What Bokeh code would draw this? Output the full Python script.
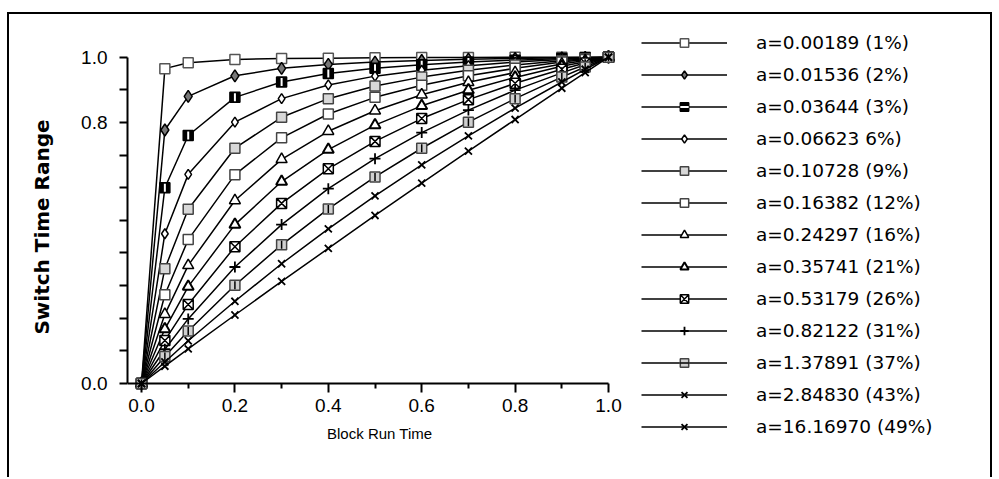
import math
from bokeh.plotting import figure
from bokeh.models import (FixedTicker, Legend, LegendItem, CustomJSTickFormatter,
                          NumeralTickFormatter, ColumnDataSource, Label)
from bokeh.embed import file_html
from bokeh.resources import INLINE

# ---------------- data ----------------
block_run_time = [0.0, 0.05, 0.1, 0.2, 0.3, 0.4, 0.5, 0.6, 0.7, 0.8, 0.9, 0.95, 1.0]

series_labels = [
    "a=0.00189 (1%)", "a=0.01536 (2%)", "a=0.03644 (3%)", "a=0.06623 6%)",
    "a=0.10728 (9%)", "a=0.16382 (12%)", "a=0.24297 (16%)", "a=0.35741 (21%)",
    "a=0.53179 (26%)", "a=0.82122 (31%)", "a=1.37891 (37%)", "a=2.84830 (43%)",
    "a=16.16970 (49%)",
]

s01 = [0, 0.965, 0.983, 0.993, 0.996, 0.997, 0.998, 0.999, 0.999, 1.000, 1.000, 1.000, 1.0]
s02 = [0, 0.777, 0.880, 0.943, 0.966, 0.978, 0.985, 0.990, 0.994, 0.996, 0.998, 0.999, 1.0]
s03 = [0, 0.600, 0.760, 0.877, 0.924, 0.950, 0.966, 0.977, 0.985, 0.991, 0.996, 0.998, 1.0]
s04 = [0, 0.459, 0.641, 0.801, 0.873, 0.915, 0.942, 0.960, 0.974, 0.985, 0.993, 0.997, 1.0]
s05 = [0, 0.352, 0.534, 0.721, 0.816, 0.873, 0.912, 0.939, 0.960, 0.976, 0.989, 0.995, 1.0]
s06 = [0, 0.272, 0.441, 0.640, 0.753, 0.826, 0.877, 0.914, 0.943, 0.966, 0.985, 0.993, 1.0]
s07 = [0, 0.212, 0.362, 0.561, 0.687, 0.773, 0.836, 0.885, 0.923, 0.953, 0.979, 0.990, 1.0]
s08 = [0, 0.167, 0.297, 0.487, 0.619, 0.717, 0.792, 0.851, 0.899, 0.938, 0.972, 0.986, 1.0]
s09 = [0, 0.132, 0.242, 0.419, 0.552, 0.658, 0.742, 0.812, 0.870, 0.920, 0.963, 0.982, 1.0]
s10 = [0, 0.105, 0.198, 0.357, 0.487, 0.597, 0.689, 0.769, 0.838, 0.899, 0.952, 0.977, 1.0]
s11 = [0, 0.083, 0.161, 0.301, 0.425, 0.535, 0.633, 0.721, 0.801, 0.873, 0.939, 0.970, 1.0]
s12 = [0, 0.066, 0.131, 0.252, 0.367, 0.474, 0.575, 0.670, 0.759, 0.844, 0.924, 0.963, 1.0]
s13 = [0, 0.053, 0.106, 0.210, 0.313, 0.414, 0.515, 0.614, 0.712, 0.809, 0.905, 0.953, 1.0]

series_values = [s01, s02, s03, s04, s05, s06, s07, s08, s09, s10, s11, s12, s13]

x_major_ticks = [0.0, 0.2, 0.4, 0.6, 0.8, 1.0]
x_minor_ticks = [0.1, 0.3, 0.5, 0.7, 0.9]
y_ticks = [0.0, 0.1, 0.2, 0.3, 0.4, 0.5, 0.6, 0.7, 0.8, 0.9, 1.0]

# marker styles: (marker, size, fill, line colour, line width, overlay)
styles = [
    ("square", 10, "white", "#555555", 1.5, None),
    ("diamond", 12, "#777777", "black", 1.5, None),
    ("square", 10, "black", "black", 1.5, ("dash", 8, "white", 2)),
    ("diamond", 10, "white", "black", 1.5, None),
    ("square", 10, "#d8d8d8", "#444444", 1.5, None),
    ("square", 10, "white", "#444444", 1.5, None),
    ("triangle", 11, "white", "black", 1.5, None),
    ("triangle", 11, "white", "black", 2.0, None),
    ("square_x", 10, "white", "black", 1.5, None),
    ("cross", 11, "white", "black", 1.8, None),
    ("square", 10, "#d0d0d0", "#444444", 1.5, ("dash", 8, "black", 1.5)),
    ("x", 10, "white", "black", 1.8, None),
    ("x", 10, "white", "black", 1.8, None),
]

# ---------------- figure ----------------
# the plot view also holds the key on its right, so nothing is clipped
p = figure(width=985, height=465, x_range=(-0.03, 1.8265), y_range=(-0.1716, 1.1309),
           output_backend="svg", toolbar_location=None,
           min_border_left=118, min_border_right=0, min_border_top=0, min_border_bottom=40)
p.styles = {"border-left": "2px solid black", "border-top": "2px solid black",
            "border-right": "2px solid black", "margin-left": "7px", "margin-top": "12px"}
p.xgrid.visible = False
p.ygrid.visible = False
p.outline_line_color = None
p.background_fill_color = "white"
p.border_fill_color = "white"

items = []
for lab, ys, st in zip(series_labels, series_values, styles):
    src = ColumnDataSource(dict(x=block_run_time, y=ys))
    lr = p.line("x", "y", source=src, line_color="black", line_width=1.5)
    mk, sz, fc, lc, lw, ov = st
    mr = p.scatter("x", "y", source=src, marker=mk, size=sz, fill_color=fc,
                   line_color=lc, line_width=lw)
    rends = [lr, mr]
    if ov is not None:
        om, osz, oc, olw = ov
        rends.append(p.scatter("x", "y", source=src, marker=om, size=osz,
                               angle=math.pi / 2, line_color=oc, line_width=olw))
    items.append(LegendItem(label=lab, renderers=rends))

legend = Legend(items=items, location=(514, 2), glyph_width=86, glyph_height=21,
                label_height=21, spacing=11, label_standoff=29, padding=0, margin=0,
                ncols=1, border_line_color=None, background_fill_alpha=0,
                label_text_font="DejaVu Sans", label_text_font_size="18.5px",
                label_text_color="black")
p.add_layout(legend)

# x axis, drawn at y = 0 inside the view
xa = p.xaxis[0]
xa.ticker = FixedTicker(ticks=x_major_ticks, minor_ticks=x_minor_ticks)
xa.formatter = NumeralTickFormatter(format="0.0")
xa.fixed_location = 0
xa.bounds = (-0.03, 1)
xa.axis_line_width = 2
xa.major_tick_line_width = 2
xa.minor_tick_line_width = 2
xa.major_tick_out = 9
xa.major_tick_in = 0
xa.minor_tick_out = 5
xa.minor_tick_in = 0
xa.major_label_standoff = 6
xa.major_label_text_font = "Liberation Sans"
xa.major_label_text_font_size = "19px"
xa.major_label_text_color = "black"

p.add_layout(Label(x=0.51, y=-0.153, x_units="data", y_units="data",
                   text="Block Run Time", text_align="center", text_baseline="middle",
                   text_font="Liberation Sans", text_font_size="15px", text_color="black"))

# y axis
ya = p.yaxis[0]
ya.ticker = FixedTicker(ticks=y_ticks, minor_ticks=[])
ya.formatter = CustomJSTickFormatter(code="""
    if (Math.abs(tick) < 1e-9 || Math.abs(tick - 0.8) < 1e-9 || Math.abs(tick - 1) < 1e-9)
        return tick.toFixed(1);
    return "";
""")
ya.bounds = (0, 1)
ya.axis_line_width = 2
ya.major_tick_line_width = 2
ya.major_tick_out = 8
ya.major_tick_in = 0
ya.minor_tick_out = 0
ya.minor_tick_in = 0
ya.major_label_standoff = 12
ya.major_label_text_font = "Liberation Sans"
ya.major_label_text_font_size = "19px"
ya.major_label_text_color = "black"
ya.axis_label = "Switch Time Range"
ya.axis_label_text_font = "DejaVu Sans"
ya.axis_label_text_font_size = "20px"
ya.axis_label_text_font_style = "bold"
ya.axis_label_standoff = 24
ya.axis_label_text_color = "black"

open("out.html", "w").write(file_html(p, INLINE))
